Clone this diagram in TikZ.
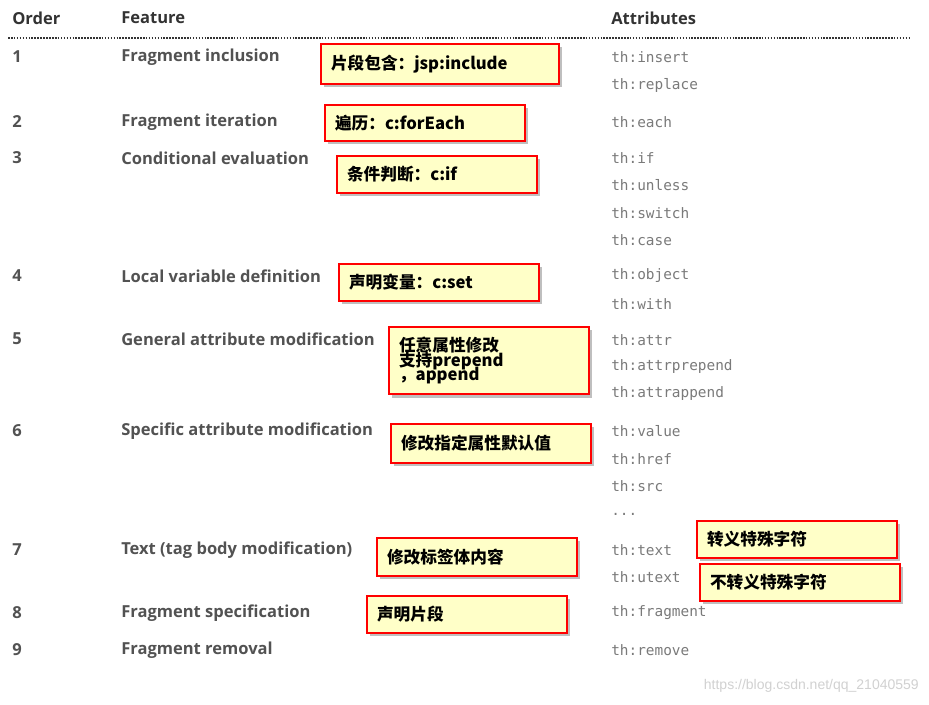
\documentclass[tikz,border=0pt]{standalone}
\usepackage{fontspec}
\setmainfont{Open Sans}
\newfontfamily\mono{DejaVu Sans Mono}
\newfontfamily\cjk{Noto Sans CJK SC}
\newfontfamily\wm{Liberation Sans}
\usetikzlibrary{shadows}
\definecolor{txt}{HTML}{333333}
\definecolor{attr}{HTML}{7A7A7A}
\definecolor{note}{HTML}{FFFFC8}
\tikzset{
 hdr/.style={anchor=west,inner sep=0,font=\fontsize{12.4}{14}\selectfont\bfseries,text=txt},
 feat/.style={anchor=west,inner sep=0,font=\fontsize{12.4}{14}\selectfont\bfseries,text=txt!85},
 attrtxt/.style={anchor=west,inner sep=0,font=\mono\fontsize{10.8}{13}\selectfont,text=attr},
 notebox/.style={draw=red,line width=1.5pt,fill=note,anchor=north west,inner ysep=0,inner xsep=10*0.75pt,
   drop shadow={shadow xshift=2.5pt,shadow yshift=-2.5pt,opacity=0.5,fill=gray},
   font=\cjk\fontsize{12.5}{14}\selectfont\bfseries,text=black,align=left},
 nw/.style={text width=#1*0.75pt-15pt}
}
\begin{document}
\begin{tikzpicture}[x=0.75pt,y=-0.75pt]
\path[use as bounding box,fill=white] (0,0) rectangle (929,704);
\node[hdr] (h1) at (12,18) {Order};
\node[hdr] (h2) at (121,18) {Feature};
\node[hdr] (h3) at (611,18) {Attributes};
\coordinate (l1) at (8,38); \coordinate (l2) at (910,38);
\draw[densely dotted,line width=1.2pt,txt] (l1) -- (l2);
\foreach \n/\y/\t in {1/57/Fragment inclusion,2/122/Fragment iteration,3/158/Conditional evaluation,4/276/Local variable definition,5/339/General attribute modification,6/431/Specific attribute modification,7/550/Text (tag body modification),8/613/Fragment specification,9/650/Fragment removal}{
 \node[feat] (o\n) at (12,\y) {\n};
 \node[feat] (f\n) at (121,\y) {\t};
}
\foreach \i/\y/\t in {a/57/insert,b/85/replace,c/122/each,d/158/if,e/185/unless,f/213/switch,g/240/case,h/276/object,i/304/with,j/340/attr,k/367/attrprepend,l/394/attrappend,m/431/value,n/459/href,o/486/src,q/550/text,r/577/utext,s/613/fragment,t/650/remove}{
 \node[attrtxt] (a\i) at (611,\y) {th:\t};
}
\node[attrtxt] (ap) at (611,514) {...};
\node[notebox,nw=238,minimum height=40*0.75pt] (n1) at (320,43) {片段包含：jsp:include};
\node[notebox,nw=200,minimum height=36*0.75pt] (n2) at (324,104) {遍历：c:forEach};
\node[notebox,nw=200,minimum height=37*0.75pt] (n3) at (336,155) {条件判断：c:if};
\node[notebox,nw=200,minimum height=37*0.75pt] (n4) at (338,263) {声明变量：c:set};
\node[notebox,nw=200,inner ysep=7.5pt] (n5) at (388,326) {任意属性修改\\[-3pt]支持prepend\\[-3pt]，append};
\node[notebox,nw=200,minimum height=39*0.75pt] (n6) at (390,423) {修改指定属性默认值};
\node[notebox,nw=200,minimum height=38*0.75pt] (n7) at (376,537) {修改标签体内容};
\node[notebox,nw=200,minimum height=37*0.75pt] (n8) at (366,595) {声明片段};
\node[notebox,nw=200,minimum height=37*0.75pt] (n9) at (696,520) {转义特殊字符};
\node[notebox,nw=200,minimum height=37*0.75pt] (n10) at (699,563) {不转义特殊字符};
\node[anchor=east,inner sep=0,font=\wm\fontsize{10.5}{12}\selectfont,text=black!18] (wmk) at (919,686) {https://blog.csdn.net/qq\_21040559};
\end{tikzpicture}
\end{document}
